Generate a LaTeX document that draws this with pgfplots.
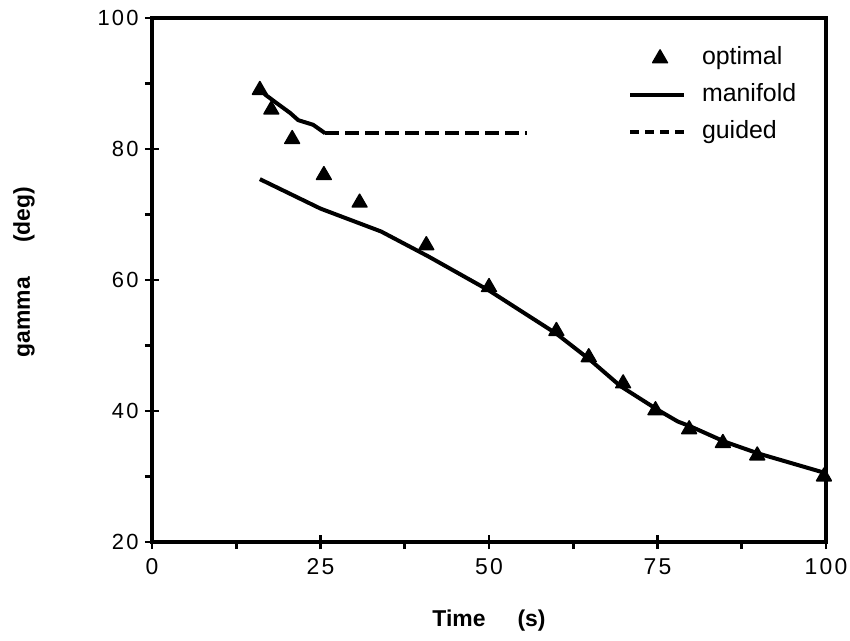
\documentclass[border=0pt]{standalone}
\usepackage{fontspec}
\setmainfont{Liberation Sans}
\newfontfamily\tickfont[LetterSpace=10]{Liberation Sans}
\usepackage{pgfplots}
\pgfplotsset{compat=1.18}
\pgfplotsset{
  markleg/.style={legend image code/.code={\path (0bp,0bp) (54bp,0bp); \draw[##1] plot coordinates {(30bp,0bp)};}},
  lineleg/.style={legend image code/.code={\draw[##1] (0bp,0bp) -- (54bp,0bp);}},
  dashleg/.style={legend image code/.code={\draw[##1, dash pattern=on 9bp off 6bp] (0bp,0bp) -- (54bp,0bp);}},
}
\begin{document}
\begin{tikzpicture}
\begin{axis}[name=ax, scale only axis, width=674bp, height=524bp,
  xmin=0, xmax=100, ymin=20, ymax=100,
  xtick={0,25,50,75,100}, ytick={20,40,60,80,100},
  minor x tick num=1, minor y tick num=1,
  tick pos=left, tick align=center,
  major tick length=14bp, minor tick length=7bp,
  axis line style={line width=3.2bp},
  every tick/.append style={black, line width=2.6bp},
  minor x tick style={yshift=-3.5bp},
  minor y tick style={xshift=-3.5bp},
  /pgf/number format/assume math mode=true,
  yticklabel style={font=\tickfont\fontsize{22}{26}\selectfont, xshift=-3bp},
  xticklabel style={font=\tickfont\fontsize{23}{27}\selectfont, yshift=-6bp},
  xlabel={\textbf{Time}\hspace{32bp}\textbf{(s)}},
  ylabel={\textbf{gamma}\hspace{34bp}\textbf{(deg)}},
  xlabel style={at={(axis description cs:0.5,-0.149)}, anchor=center, font=\fontsize{23}{27}\selectfont},
  ylabel style={at={(axis description cs:-0.19,0.515)}, anchor=center, font=\fontsize{23}{27}\selectfont},
  legend style={draw=none, fill=none, at={(axis description cs:0.706,0.947)}, anchor=north west,
    font=\fontsize{25}{29}\selectfont, row sep=12bp, column sep=16bp, inner sep=0pt,
    nodes={inner sep=0pt, text height=19bp, text depth=6bp}},
  legend cell align=left,
]
\addplot[only marks, mark=triangle*, mark size=8.5bp, black, mark options={line width=1.5bp, line join=round}, markleg]
  coordinates {(16,89) (17.7,86) (20.8,81.5) (25.5,76) (30.8,71.8) (40.7,65.3) (50,58.9) (60,52.2) (64.8,48.2) (69.9,44.2) (74.7,40.1) (79.7,37.2) (84.7,35.1) (89.8,33.2) (99.7,30)};
\addlegendentry{optimal}
\addplot[black, line width=4bp, line join=round, lineleg]
  coordinates {(16,75.4) (25,70.9) (34,67.4) (41,63.6) (50,58.4) (60,51.8) (65,47.8) (69.5,43.8) (75,40.2) (78,38.4) (80,37.6) (85,35.3) (90,33.5) (100,30.5)};
\addlegendentry{manifold}
\addplot[black, line width=4bp, line join=round, dash pattern=on 14bp off 6bp, dashleg]
  coordinates {(25.7,82.4) (55.6,82.4)};
\addlegendentry{guided}
\addplot[black, line width=4bp, line join=round, forget plot]
  coordinates {(16.2,89.1) (16.8,88.3) (18.5,87) (20.5,85.5) (21.7,84.4) (23.9,83.7) (25.7,82.4)};
\end{axis}
\draw[line width=3.2bp, line join=miter] (ax.south west) rectangle (ax.north east);
\pgfresetboundingbox
\path[use as bounding box] ([shift={(-152bp,-99bp)}]ax.south west) rectangle ([shift={(24bp,18bp)}]ax.north east);
\end{tikzpicture}
\end{document}
